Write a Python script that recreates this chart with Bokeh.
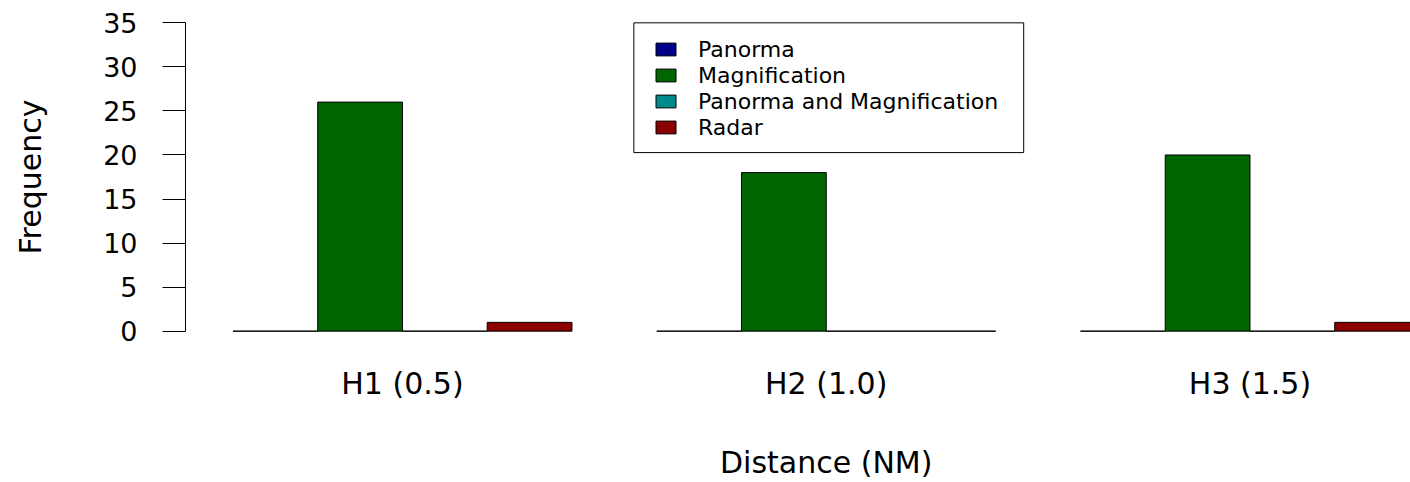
from bokeh.plotting import figure
from bokeh.models import (ColumnDataSource, FixedTicker, Range1d, Legend,
                          LegendItem, LinearAxis, BoxAnnotation)
from bokeh.embed import file_html
from bokeh.resources import INLINE

# ---- data ----
groups = ["H1 (0.5)", "H2 (1.0)", "H3 (1.5)"]
series = ["Panorma", "Magnification", "Panorma and Magnification", "Radar"]
panorma = [0, 0, 0]
magnification = [26, 18, 20]
panorma_magnification = [0, 0, 0]
radar = [1, 0, 1]
colors = ["#00008B", "#006400", "#008B8B", "#8B0000"]
y_ticks = [0, 5, 10, 15, 20, 25, 30, 35]
x_title = "Distance (NM)"
y_title = "Frequency"

values = [panorma, magnification, panorma_magnification, radar]
FONT = "DejaVu Sans"

n_s = len(series)
# R barplot(beside=TRUE) layout: space of one bar between groups
group_centers = [1 + g * (n_s + 1) + n_s / 2 for g in range(len(groups))]
x_lo, x_hi = 0.44, 15.56          # R plot region (runs past the image edge)
x_mid = (x_lo + x_hi) / 2

p = figure(width=1410, height=482, output_backend="svg", toolbar_location=None,
           x_range=Range1d(x_lo, 14.894), y_range=Range1d(-1.4, 36.4),
           min_border_left=185, min_border_right=0, min_border_top=10,
           min_border_bottom=139)
p.outline_line_color = None
p.xgrid.visible = False
p.ygrid.visible = False
p.background_fill_color = "white"

items = []
for j, (name, vals, col) in enumerate(zip(series, values, colors)):
    xs = [1 + g * (n_s + 1) + j + 0.5 for g in range(len(groups))]
    src = ColumnDataSource(dict(x=xs, top=vals))
    r = p.vbar(x="x", top="top", bottom=0, width=1, source=src,
               fill_color=col, line_color="black", line_width=1)
    items.append(LegendItem(label=name, renderers=[r]))

# y axis
ya = p.yaxis[0]
ya.ticker = FixedTicker(ticks=y_ticks)
ya.bounds = (min(y_ticks), max(y_ticks))
ya.minor_tick_line_color = None
ya.major_tick_out = 23
ya.major_tick_in = 0
ya.major_label_standoff = 25
ya.major_label_text_font = FONT
ya.major_label_text_font_size = "27px"
ya.major_label_text_color = "black"
ya.axis_line_color = "black"
ya.major_tick_line_color = "black"
ya.axis_label = y_title
ya.axis_label_text_font = FONT
ya.axis_label_text_font_size = "30px"
ya.axis_label_text_font_style = "normal"
ya.axis_label_text_color = "black"
ya.axis_label_standoff = 52


def plain_x_axis(ax, standoff):
    ax.axis_line_color = None
    ax.major_tick_line_color = None
    ax.minor_tick_line_color = None
    ax.major_tick_out = 0
    ax.major_tick_in = 0
    ax.major_label_standoff = standoff
    ax.major_label_text_font = FONT
    ax.major_label_text_font_size = "30px"
    ax.major_label_text_color = "black"


# x axis (group labels)
xa = p.xaxis[0]
xa.ticker = FixedTicker(ticks=group_centers)
xa.major_label_overrides = {c: g for c, g in zip(group_centers, groups)}
plain_x_axis(xa, 22)

# x title, centred on the full R plot region
xt = LinearAxis(ticker=FixedTicker(ticks=[x_mid]),
                major_label_overrides={x_mid: x_title})
plain_x_axis(xt, 41)
p.add_layout(xt, "below")

# legend
legend = Legend(items=items, location=(468, 203), padding=20, spacing=0,
                glyph_width=25, glyph_height=16, label_height=26,
                label_standoff=20, label_text_font=FONT,
                label_text_font_size="22px", label_text_color="black",
                border_line_color=None, background_fill_alpha=0)
p.add_layout(legend)
p.add_layout(BoxAnnotation(left=5.73, right=10.33, top=35.0, bottom=20.27,
                           fill_alpha=0, line_color="black", line_width=1,
                           line_alpha=1))

open("out.html", "w").write(file_html(p, INLINE))
